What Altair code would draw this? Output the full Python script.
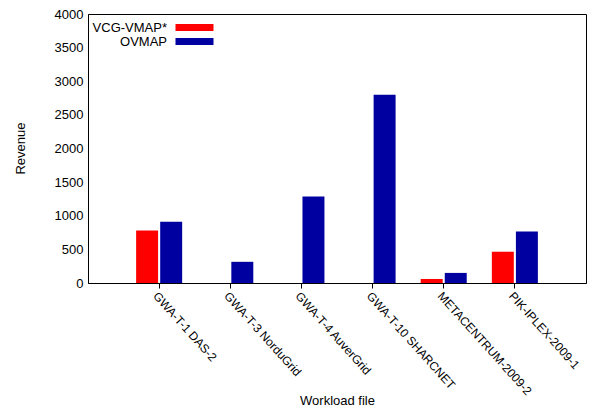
import altair as alt
import pandas as pd

categories = [
    "GWA-T-1 DAS-2",
    "GWA-T-3 NorduGrid",
    "GWA-T-4 AuverGrid",
    "GWA-T-10 SHARCNET",
    "METACENTRUM-2009-2",
    "PIK-IPLEX-2009-1",
]
series_names = ["VCG-VMAP*", "OVMAP"]
vcg_vmap = [780, 0, 0, 0, 60, 465]
ovmap = [910, 315, 1285, 2800, 150, 765]
colors = ["#ff0000", "#0000a0"]
y_ticks = [0, 500, 1000, 1500, 2000, 2500, 3000, 3500, 4000]

rows = []
for i, c in enumerate(categories):
    rows.append({"workload": c, "series": series_names[0], "revenue": vcg_vmap[i]})
    rows.append({"workload": c, "series": series_names[1], "revenue": ovmap[i]})
df = pd.DataFrame(rows)

FONT = "Liberation Sans"
swatch = "M-3.8,-0.7L3.8,-0.7L3.8,0.7L-3.8,0.7Z"

chart = alt.Chart(df).mark_bar().encode(
    x=alt.X(
        "workload:N",
        sort=categories,
        title="Workload file",
        scale=alt.Scale(paddingInner=0.353, paddingOuter=0.6765),
        axis=alt.Axis(
            labelAngle=48,
            labelAlign="left",
            labelBaseline="top",
            labelPadding=2,
            labelFontSize=12,
            tickSize=5,
            titleY=121,
            titleBaseline="alphabetic",
            labelOverlap=False,
        ),
    ),
    xOffset=alt.XOffset(
        "series:N",
        sort=series_names,
        scale=alt.Scale(paddingInner=0.087, paddingOuter=0),
    ),
    y=alt.Y(
        "revenue:Q",
        title="Revenue",
        scale=alt.Scale(domain=[0, 4000], nice=False),
        axis=alt.Axis(
            values=y_ticks,
            format="d",
            ticks=False,
            labelPadding=5,
            titleX=-68,
            titleY=134,
            titleBaseline="middle",
        ),
    ),
    color=alt.Color(
        "series:N",
        sort=series_names,
        scale=alt.Scale(domain=series_names, range=colors),
        legend=alt.Legend(
            title=None,
            orient="none",
            legendX=100,
            legendY=7,
            symbolType=swatch,
            symbolSize=100,
            symbolStrokeWidth=0,
            symbolOpacity=1,
            labelAlign="right",
            labelOffset={"expr": "-34"},
            rowPadding={"expr": "-4"},
            padding=0,
            labelFontSize=13,
            labelFont=FONT,
            labelColor="black",
        ),
    ),
).properties(
    width=498,
    height=269,
    autosize=alt.AutoSizeParams(type="none"),
    padding={"left": 80, "top": 6, "right": 3, "bottom": 126},
).configure(
    font=FONT
).configure_view(
    stroke="black", strokeWidth=1
).configure_legend(
    labelFontSize=13,
    labelFont=FONT,
).configure_axis(
    grid=False,
    domainColor="black",
    tickColor="black",
    labelColor="black",
    titleColor="black",
    labelFontSize=13,
    titleFontSize=13,
    titleFontWeight="normal",
    labelFont=FONT,
    titleFont=FONT,
)

chart.save("out.html", embed_options={"renderer": "svg", "actions": False})
